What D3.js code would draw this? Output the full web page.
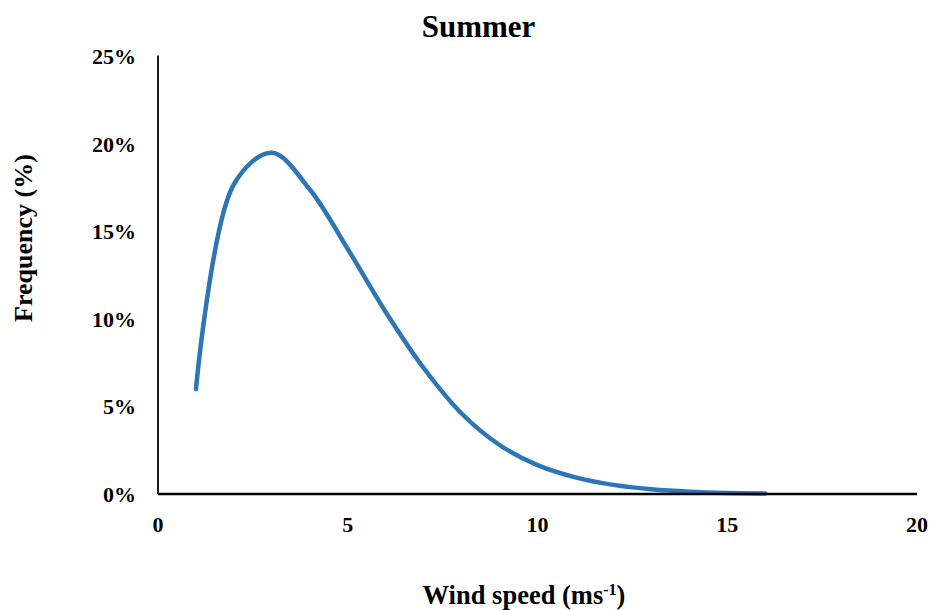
<!DOCTYPE html>
<html><head><meta charset="utf-8">
<script src="https://cdn.jsdelivr.net/npm/d3@7"></script>
<style>body{margin:0;background:#fff}svg{display:block}text{font-family:"Liberation Serif","Times New Roman",serif;font-weight:bold;fill:#000}</style>
</head><body>
<script>
const windSpeed = [1,2,3,4,5,6,7,8,9,10,11,12,13,14,15,16];
const frequency = [6.0,17.7,19.5,17.4,14.0,10.4,7.2,4.6,2.8,1.65,0.95,0.52,0.27,0.13,0.06,0.03];
const xTicks = [0,5,10,15,20];
const yTicks = [0,5,10,15,20,25];
const title = "Summer";

const W = 931, H = 610;
const svg = d3.select("body").append("svg").attr("width", W).attr("height", H);
const x = d3.scaleLinear().domain([0,20]).range([158,917]);
const y = d3.scaleLinear().domain([0,25]).range([494,56.5]);

// y axis line
svg.append("line").attr("x1",x(0)).attr("x2",x(0)).attr("y1",y(25)-1).attr("y2",y(0))
  .attr("stroke","#000").attr("stroke-width",1.8);

// curve (Excel-like smoothing, tangents scaled by screen segment lengths)
const line = d3.line().x((d,i)=>x(windSpeed[i])).y(d=>y(d)).curve(d3.curveCatmullRom.alpha(0.5));
svg.append("path").datum(frequency).attr("d",line).attr("fill","none")
  .attr("stroke","#2E75B6").attr("stroke-width",4.5).attr("stroke-linecap","round");

// x axis line
svg.append("line").attr("x1",x(0)).attr("x2",x(20)).attr("y1",y(0)).attr("y2",y(0))
  .attr("stroke","#000").attr("stroke-width",2.4);

// tick labels
svg.append("g").selectAll("text").data(xTicks).join("text")
  .attr("x",d=>x(d)).attr("y",532).attr("text-anchor","middle").attr("font-size",22).text(d=>d);
svg.append("g").selectAll("text").data(yTicks).join("text")
  .attr("x",136).attr("y",d=>y(d)+7.5).attr("text-anchor","end").attr("font-size",22).text(d=>d+"%");

// title
svg.append("text").attr("x",478.5).attr("y",37).attr("text-anchor","middle").attr("font-size",31).text(title);

// axis titles
svg.append("text").attr("transform","translate(32,238) rotate(-90)").attr("text-anchor","middle")
  .attr("font-size",26).text("Frequency (%)");
const xt = svg.append("text").attr("x",524).attr("y",604).attr("text-anchor","middle").attr("font-size",26.5);
xt.append("tspan").text("Wind speed (ms");
xt.append("tspan").attr("dy",-9).attr("font-size",16).text("-1");
xt.append("tspan").attr("dy",9).text(")");
</script>
</body></html>
